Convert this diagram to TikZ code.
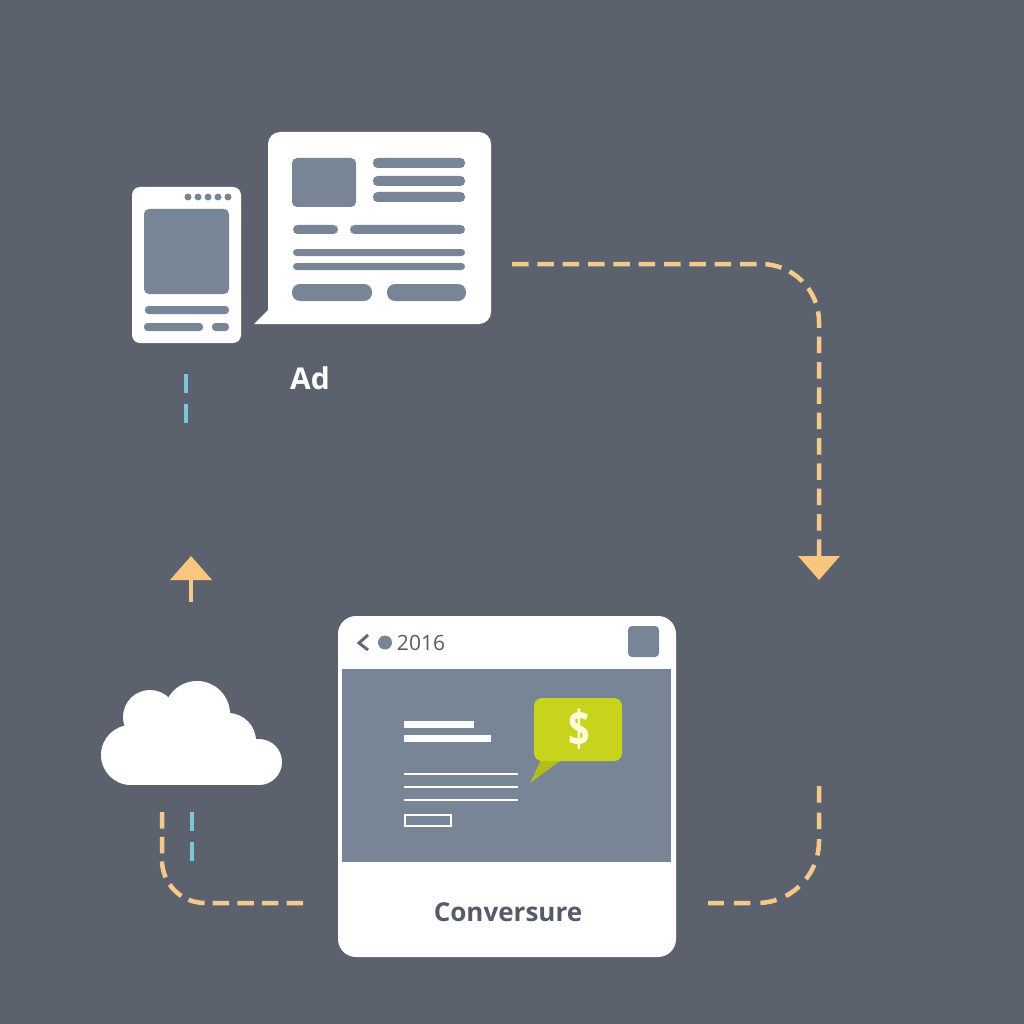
\documentclass[tikz,border=0pt]{standalone}
\usepackage{fontspec}
\usepackage{tikz}
\usetikzlibrary{arrows.meta}
\setmainfont{Open Sans}
\definecolor{fundo}{HTML}{5B626E}
\definecolor{ardosia}{HTML}{788597}
\definecolor{laranja}{HTML}{F3CA8C}
\definecolor{pontaor}{HTML}{F8C67E}
\definecolor{azul}{HTML}{7CC6D8}
\definecolor{lima}{HTML}{C8D31E}
\definecolor{escuro}{HTML}{555C68}
\tikzset{
  card/.style={fill=white, rounded corners=#1, inner sep=0pt},
  bar/.style={fill=ardosia, rounded corners=#1},
  seta/.style={laranja, line width=4.5pt, dash pattern=on 16.5pt off #1},
  pontilha/.style={azul, line width=3.5pt, dash pattern=on 19pt off 11pt},
  ponta/.style={-{Triangle[width=41pt, length=24pt, color=pontaor]}}
}
\begin{document}
\begin{tikzpicture}[x=1pt, y=-1pt]
      % Fundo
      \fill[fundo] (0, 0) rectangle (1024, 1024);
      \useasboundingbox (0, 0) rectangle (1024, 1024);
      % Telefone
      \node[card=8pt, minimum width=109pt, minimum height=156pt] (phone) at (186.5, 265) {};
      \foreach \x in {188, 198, 208, 218, 228}
        \fill[ardosia] (\x, 197) circle (3.5);
      \fill[bar=5pt] (144, 209) rectangle (229, 294);
      \fill[bar=3.5pt] (145, 306) rectangle (229, 314);
      \fill[bar=3.5pt] (144, 323) rectangle (203, 331);
      \fill[bar=3.5pt] (212, 323) rectangle (229, 331);
      % Anuncio
      \fill[white] (254, 324) -- (268, 310) -- (280, 324) -- cycle;
      \node[card=12pt, minimum width=223pt, minimum height=192pt] (adcard) at (379.5, 228) {};
      \fill[bar=5pt] (292, 158) rectangle (356, 207);
      \fill[bar=4.5pt] (373, 158) rectangle (465, 168);
      \fill[bar=4.5pt] (373, 176) rectangle (465, 186);
      \fill[bar=4.5pt] (373, 192) rectangle (465, 202);
      \fill[bar=4.5pt] (293, 225) rectangle (338, 234);
      \fill[bar=4.5pt] (350, 225) rectangle (465, 234);
      \fill[bar=3.5pt] (293, 249) rectangle (465, 256);
      \fill[bar=3.5pt] (293, 263) rectangle (465, 270);
      \fill[bar=8pt] (292, 284) rectangle (372, 301);
      \fill[bar=8pt] (387, 284) rectangle (466, 301);
      \node[white, font=\fontsize{30}{34}\selectfont\bfseries] (adlabel) at (310, 378) {Ad};
      % Nuvem
      \foreach \x/\y/\r in {131/755/30, 150/717/27, 197/714/33, 228/741/28, 259/762/23}
        \fill[white] (\x, \y) circle (\r);
      \fill[white] (131, 745) rectangle (259, 785);
      \fill[white] (150, 725) rectangle (228, 745);
      % Janela
      \node[card=18pt, minimum width=338pt, minimum height=341pt] (window) at (507, 786.5) {};
      \fill[ardosia] (342, 669) rectangle (671, 862);
      \fill[bar=4pt] (628, 626) rectangle (659, 657);
      \draw[ardosia!80!black, line width=3pt] (368, 635) -- (359, 643) -- (368, 650);
      \fill[ardosia] (385, 642.5) circle (7);
      \node[escuro, font=\fontsize{21}{24}\selectfont] (year) at (421, 643) {2016};
      \fill[white] (404, 721) rectangle (474, 728);
      \fill[white] (404, 735) rectangle (491, 742);
      \foreach \y in {774, 787, 800}
        \fill[white] (404, \y-1.2) rectangle (518, \y+1.2);
      \draw[white, line width=2pt] (405, 815) rectangle (451, 826);
      % Balao
      \fill[lima!90!black] (542, 758) -- (530, 783) -- (564, 758) -- cycle;
      \node[card=8pt, fill=lima, minimum width=88pt, minimum height=63pt] (bubble) at (578, 729.5) {};
      \node[yellow!15, font=\fontsize{38}{42}\selectfont\bfseries] (dollar) at (579, 729) {\scalebox{1}[1.3]{\$}};
      \node[escuro, font=\fontsize{26}{30}\selectfont\bfseries] (convlabel) at (508, 912) {Conversure};
      % Pontos das setas
      \coordinate (a1) at (512, 264);
      \coordinate (a2) at (819, 264);
      \coordinate (a3) at (819, 580);
      \coordinate (b1) at (819, 786);
      \coordinate (b2) at (819, 903);
      \coordinate (b3) at (708, 903);
      \coordinate (c1) at (303, 903);
      \coordinate (c2) at (162, 903);
      \coordinate (c3) at (162, 812);
      \coordinate (d1) at (191, 602);
      \coordinate (d2) at (191, 556);
      \coordinate (e1) at (186, 374);
      \coordinate (e2) at (186, 423);
      \coordinate (f1) at (192, 812);
      \coordinate (f2) at (192, 861);
      % Setas
      \draw[seta=8.84pt, ponta, rounded corners=58pt] (a1) -- (a2) -- (a3);
      \draw[seta=10pt, rounded corners=62pt] (b1) -- (b2) -- (b3);
      \draw[seta=8.1pt, rounded corners=43pt] (c1) -- (c2) -- (c3);
      \draw[laranja, line width=4.5pt, ponta] (d1) -- (d2);
      \draw[pontilha] (e1) -- (e2);
      \draw[pontilha] (f1) -- (f2);
    \end{tikzpicture}
\end{document}
